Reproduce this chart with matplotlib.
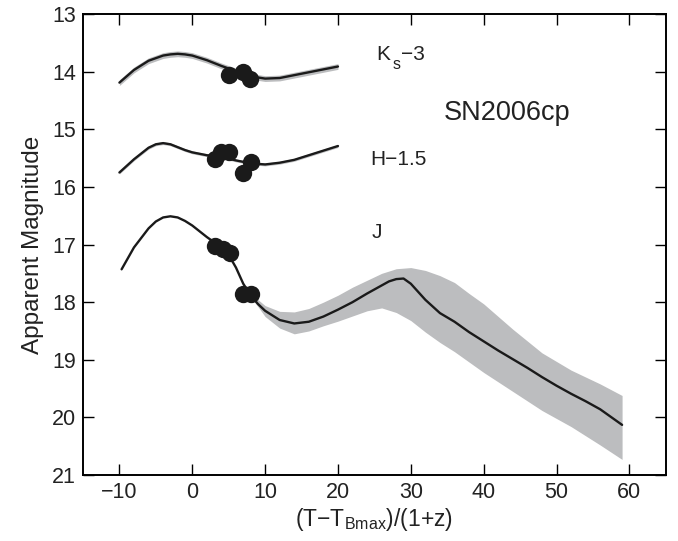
import matplotlib
matplotlib.use("Agg")
import matplotlib.pyplot as plt

plt.rcParams['font.family'] = ['Liberation Sans', 'DejaVu Sans']
plt.rcParams['mathtext.fontset'] = 'custom'
plt.rcParams['mathtext.rm'] = 'Liberation Sans'
plt.rcParams['mathtext.it'] = 'Liberation Sans'

# Ks-3 curve
ks_x = [-10, -8, -6, -4, -3, -2, -1, 0, 2, 4, 6, 8, 10, 12, 14, 16, 18, 20]
ks_y = [14.19, 13.97, 13.81, 13.72, 13.70, 13.69, 13.70, 13.72, 13.80, 13.90, 13.99, 14.08, 14.12, 14.11, 14.06, 14.01, 13.96, 13.91]
ks_err = 0.05
ks_pts_x = [5.0, 6.9, 7.9]
ks_pts_y = [14.05, 14.00, 14.12]

# H-1.5 curve
h_x = [-10, -8, -6, -5, -4, -3, -2, -1, 0, 2, 4, 6, 8, 10, 12, 14, 16, 18, 20]
h_y = [15.75, 15.52, 15.32, 15.26, 15.24, 15.26, 15.31, 15.36, 15.40, 15.45, 15.48, 15.54, 15.59, 15.61, 15.58, 15.53, 15.45, 15.37, 15.29]
h_err = 0.025
h_pts_x = [3.1, 4.0, 5.1, 6.9, 8.0]
h_pts_y = [15.52, 15.40, 15.40, 15.76, 15.57]

# J curve
j_x = [-9.7, -8, -6, -5, -4, -3, -2, -1, 0, 2, 4, 5, 6, 7, 8, 9, 10, 12, 14, 16, 18, 20, 22, 24, 26, 27, 28, 29, 30,
       32, 34, 36, 38, 40, 42, 44, 46, 48, 50, 52, 54, 56, 59]
j_y = [17.43, 17.05, 16.72, 16.60, 16.53, 16.51, 16.53, 16.59, 16.67, 16.87, 17.05, 17.18, 17.40, 17.68, 17.88, 18.03, 18.15,
       18.31, 18.37, 18.34, 18.25, 18.13, 18.00, 17.85, 17.71, 17.64, 17.60, 17.59, 17.68,
       17.96, 18.19, 18.34, 18.52, 18.68, 18.84, 18.99, 19.14, 19.30, 19.45, 19.59, 19.72, 19.86, 20.13]
jb_x = [8, 10, 12, 14, 16, 18, 20, 22, 24, 26, 28, 30, 32, 34, 36, 38, 40, 44, 48, 52, 56, 59]
jb_up = [17.85, 18.06, 18.16, 18.17, 18.11, 18.00, 17.88, 17.74, 17.62, 17.50, 17.42, 17.40, 17.45, 17.54, 17.66,
         17.85, 18.03, 18.47, 18.88, 19.18, 19.42, 19.62]
jb_lo = [17.90, 18.25, 18.45, 18.55, 18.50, 18.41, 18.33, 18.24, 18.15, 18.10, 18.18, 18.32, 18.52, 18.70, 18.86,
         19.04, 19.22, 19.55, 19.88, 20.16, 20.48, 20.73]
j_pts_x = [3.1, 4.2, 5.2, 7.0, 8.0]
j_pts_y = [17.03, 17.08, 17.15, 17.85, 17.85]

x_ticks = [-10, 0, 10, 20, 30, 40, 50, 60]
y_ticks = [13, 14, 15, 16, 17, 18, 19, 20, 21]

band_c = '#bcbdbf'
line_c = '#1a1a1a'
txt_c = '#222222'

fig = plt.figure(figsize=(6.78, 5.41), dpi=100)
ax = fig.add_axes([0.1224, 0.122, 0.8596, 0.852])

ax.fill_between(ks_x, [v - ks_err for v in ks_y], [v + ks_err for v in ks_y], color=band_c, lw=0)
ax.fill_between(h_x, [v - h_err for v in h_y], [v + h_err for v in h_y], color=band_c, lw=0)
ax.fill_between(jb_x, jb_up, jb_lo, color=band_c, lw=0)

for xs, ys in [(ks_x, ks_y), (h_x, h_y), (j_x, j_y)]:
    ax.plot(xs, ys, color=line_c, lw=1.7, solid_capstyle='round', solid_joinstyle='round')

for px, py in [(ks_pts_x, ks_pts_y), (h_pts_x, h_pts_y), (j_pts_x, j_pts_y)]:
    ax.plot(px, py, 'o', color=line_c, ms=12.5, mec='none', zorder=5)

ax.text(25.2, 13.80, 'K', fontsize=15, va='baseline', ha='left', color=txt_c)
ax.text(27.5, 13.96, 's', fontsize=11.5, va='baseline', ha='left', color=txt_c)
ax.text(28.7, 13.80, '\u22123', fontsize=15, va='baseline', ha='left', color=txt_c)
ax.text(34.5, 14.84, 'SN2006cp', fontsize=19.5, va='baseline', ha='left', color=txt_c)
ax.text(24.5, 15.62, 'H\u22121.5', fontsize=15, va='baseline', ha='left', color=txt_c)
ax.text(24.6, 16.89, 'J', fontsize=15, va='baseline', ha='left', color=txt_c)

ax.set_xlim(-15, 65)
ax.set_ylim(21, 13)
ax.set_xticks(x_ticks)
ax.set_yticks(y_ticks)
ax.set_xticklabels([str(t).replace('-', '\u2212') for t in x_ticks])
ax.tick_params(direction='in', length=8, width=1, top=True, right=True, labelsize=15.5, pad=5,
               labelcolor=txt_c)
for s in ax.spines.values():
    s.set_linewidth(1.4)

ax.set_xlabel('(T\u2212T$_{\\rm Bmax}$)/(1+z)', fontsize=16.5, labelpad=2, color=txt_c)
ax.set_ylabel('Apparent Magnitude', fontsize=17.5, labelpad=6, color=txt_c)

fig.savefig('out.png', dpi=100)
